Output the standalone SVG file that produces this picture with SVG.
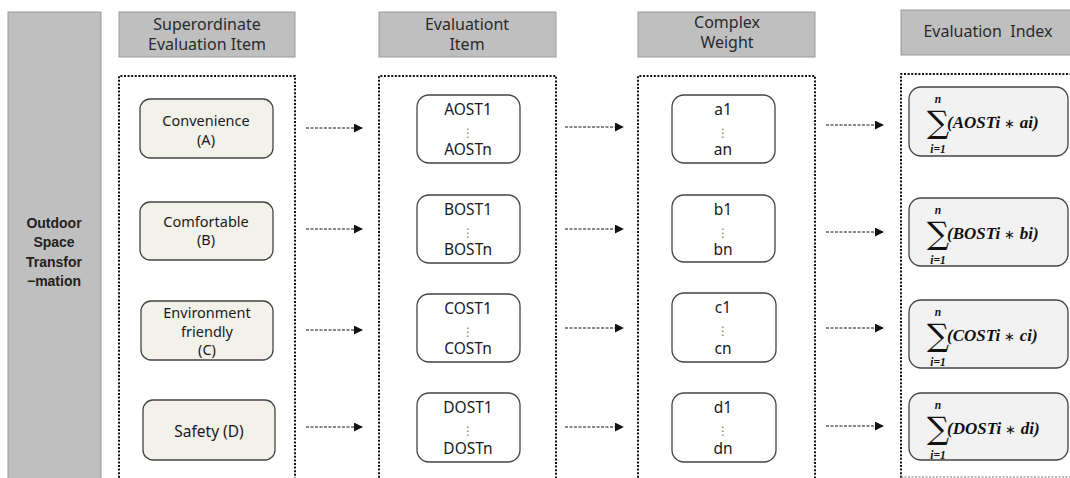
<svg xmlns="http://www.w3.org/2000/svg" width="1070" height="478" viewBox="0 0 1070 478">
<defs>
<style>
.hdr{fill:#bfbfbf;stroke:#9a9a9a;stroke-width:1}
.htxt{font-family:"Noto Sans","Noto Sans CJK KR",sans-serif;font-size:16px;fill:#2a2a2a;text-anchor:middle}
.frame{fill:none;stroke:#111;stroke-width:2;stroke-dasharray:2 1.6}
.n1{fill:#f2f1ea;stroke:#444;stroke-width:1.3}
.n2{fill:#ffffff;stroke:#444;stroke-width:1.3}
.n3{fill:#f2f2f2;stroke:#444;stroke-width:1.3}
.t{font-family:"Noto Sans","Noto Sans CJK KR",sans-serif;font-size:15.5px;fill:#1a1a1a;text-anchor:middle}
.tl{font-family:"Noto Sans","Noto Sans CJK KR",sans-serif;font-size:14.5px;fill:#1a1a1a;text-anchor:middle}
.dots{font-family:"DejaVu Sans",sans-serif;font-size:12px;fill:#8a7a55;text-anchor:middle}
.side{font-family:"Liberation Sans",Arial,sans-serif;font-size:14px;font-weight:bold;fill:#222;text-anchor:middle}
.f{font-family:"Liberation Serif","Times New Roman",serif;font-weight:bold;font-style:italic;font-size:17px;fill:#111}
.st{font-weight:normal;font-style:normal;font-size:13px}
.sig{font-family:"DejaVu Serif","Liberation Serif",serif;font-size:31px;fill:#111;text-anchor:middle}
.lim{font-family:"Liberation Serif","Times New Roman",serif;font-weight:bold;font-style:italic;font-size:11.5px;fill:#111;text-anchor:middle}
.arr{fill:none;stroke:#111;stroke-width:1;stroke-dasharray:3 1.5;marker-end:url(#ah)}
</style>
<marker id="ah" viewBox="0 0 10 10" refX="9" refY="5" markerWidth="9" markerHeight="9" markerUnits="userSpaceOnUse" orient="auto">
<path d="M0,0 L10,5 L0,10 z" fill="#111"/>
</marker>
</defs>
<rect width="1070" height="478" fill="#ffffff"/>

<g id="side">
<rect x="8" y="12" width="93" height="470" fill="#bfbfbf" stroke="#9a9a9a" stroke-width="1"/>
<text class="side" x="54" y="228">Outdoor</text>
<text class="side" x="54" y="247">Space</text>
<text class="side" x="54" y="267">Transfor</text>
<text class="side" x="54" y="286">−mation</text>
</g>

<g id="headers">
<rect class="hdr" x="119" y="12" width="176" height="45"/>
<text class="htxt" x="207" y="30">Superordinate</text>
<text class="htxt" x="207" y="50">Evaluation Item</text>
<rect class="hdr" x="379" y="12" width="177" height="45"/>
<text class="htxt" x="467" y="30">Evaluationt</text>
<text class="htxt" x="467" y="50">Item</text>
<rect class="hdr" x="638" y="12" width="177" height="45"/>
<text class="htxt" x="727" y="28">Complex</text>
<text class="htxt" x="727" y="48">Weight</text>
<rect class="hdr" x="901" y="10" width="172" height="45"/>
<text class="htxt" x="988" y="37" xml:space="preserve">Evaluation  Index</text>
</g>

<g id="frames">
<path class="frame" d="M119,485 V76 H295 V485"/>
<path class="frame" d="M379,485 V76 H556 V485"/>
<path class="frame" d="M638,485 V76 H815 V485"/>
<path class="frame" d="M901,485 V74 H1075"/>
<path d="M901,477 H1075" fill="none" stroke="#777" stroke-width="1" stroke-dasharray="2 1.5"/>
</g>

<g id="nodeA">
<rect class="n1" x="140" y="99" width="133" height="59" rx="10"/>
<text class="tl" x="206" y="126">Convenience</text>
<text class="tl" x="206" y="145">(A)</text>
</g>
<g id="nodeB">
<rect class="n1" x="140" y="202" width="133" height="58" rx="10"/>
<text class="tl" x="206" y="227">Comfortable</text>
<text class="tl" x="206" y="245">(B)</text>
</g>
<g id="nodeC">
<rect class="n1" x="141" y="301" width="132" height="59" rx="10"/>
<text class="tl" x="207" y="318">Environment</text>
<text class="tl" x="207" y="337">friendly</text>
<text class="tl" x="207" y="355">(C)</text>
</g>
<g id="nodeD">
<rect class="n1" x="143" y="400" width="132" height="60" rx="10"/>
<text class="t" x="209" y="437">Safety (D)</text>
</g>

<g id="itemA">
<rect class="n2" x="417" y="95" width="103" height="68" rx="12"/>
<text class="t" x="468" y="115">AOST1</text>
<text class="dots" x="468" y="137">⋮</text>
<text class="t" x="468" y="155">AOSTn</text>
</g>
<g id="itemB">
<rect class="n2" x="417" y="195" width="103" height="68" rx="12"/>
<text class="t" x="468" y="215">BOST1</text>
<text class="dots" x="468" y="237">⋮</text>
<text class="t" x="468" y="255">BOSTn</text>
</g>
<g id="itemC">
<rect class="n2" x="417" y="294" width="103" height="68" rx="12"/>
<text class="t" x="468" y="314">COST1</text>
<text class="dots" x="468" y="336">⋮</text>
<text class="t" x="468" y="354">COSTn</text>
</g>
<g id="itemD">
<rect class="n2" x="417" y="393" width="103" height="69" rx="12"/>
<text class="t" x="468" y="413">DOST1</text>
<text class="dots" x="468" y="435">⋮</text>
<text class="t" x="468" y="454">DOSTn</text>
</g>

<g id="weightA">
<rect class="n2" x="672" y="95" width="103" height="68" rx="12"/>
<text class="t" x="723" y="115">a1</text>
<text class="dots" x="723" y="137">⋮</text>
<text class="t" x="723" y="155">an</text>
</g>
<g id="weightB">
<rect class="n2" x="672" y="195" width="103" height="67" rx="12"/>
<text class="t" x="723" y="215">b1</text>
<text class="dots" x="723" y="237">⋮</text>
<text class="t" x="723" y="255">bn</text>
</g>
<g id="weightC">
<rect class="n2" x="672" y="293" width="104" height="69" rx="12"/>
<text class="t" x="723" y="313">c1</text>
<text class="dots" x="723" y="335">⋮</text>
<text class="t" x="723" y="354">cn</text>
</g>
<g id="weightD">
<rect class="n2" x="672" y="393" width="104" height="69" rx="12"/>
<text class="t" x="723" y="413">d1</text>
<text class="dots" x="723" y="435">⋮</text>
<text class="t" x="723" y="454">dn</text>
</g>

<g id="indexA">
<rect class="n3" x="909" y="87" width="159" height="69" rx="12"/>
<text class="lim" x="938" y="103">n</text>
<text class="sig" x="938" y="133">∑</text>
<text class="lim" x="938" y="153">i=1</text>
<text class="f" x="947" y="128" xml:space="preserve">(AOSTi <tspan class="st">∗</tspan> ai)</text>
</g>
<g id="indexB">
<rect class="n3" x="909" y="198" width="159" height="68" rx="12"/>
<text class="lim" x="938" y="214">n</text>
<text class="sig" x="938" y="244">∑</text>
<text class="lim" x="938" y="264">i=1</text>
<text class="f" x="947" y="239" xml:space="preserve">(BOSTi <tspan class="st">∗</tspan> bi)</text>
</g>
<g id="indexC">
<rect class="n3" x="909" y="300" width="159" height="68" rx="12"/>
<text class="lim" x="938" y="316">n</text>
<text class="sig" x="938" y="346">∑</text>
<text class="lim" x="938" y="366">i=1</text>
<text class="f" x="947" y="341" xml:space="preserve">(COSTi <tspan class="st">∗</tspan> ci)</text>
</g>
<g id="indexD">
<rect class="n3" x="909" y="393" width="159" height="67" rx="12"/>
<text class="lim" x="938" y="409">n</text>
<text class="sig" x="938" y="439">∑</text>
<text class="lim" x="938" y="459">i=1</text>
<text class="f" x="947" y="434" xml:space="preserve">(DOSTi <tspan class="st">∗</tspan> di)</text>
</g>

<g id="connectors">
<path class="arr" d="M306,128 H362"/>
<path class="arr" d="M306,229 H362"/>
<path class="arr" d="M306,330 H362"/>
<path class="arr" d="M306,427 H362"/>
<path class="arr" d="M565,127 H623"/>
<path class="arr" d="M565,229 H623"/>
<path class="arr" d="M565,328 H623"/>
<path class="arr" d="M565,427 H623"/>
<path class="arr" d="M826,125 H883"/>
<path class="arr" d="M826,232 H883"/>
<path class="arr" d="M826,328 H883"/>
<path class="arr" d="M826,426 H883"/>
</g>
</svg>
